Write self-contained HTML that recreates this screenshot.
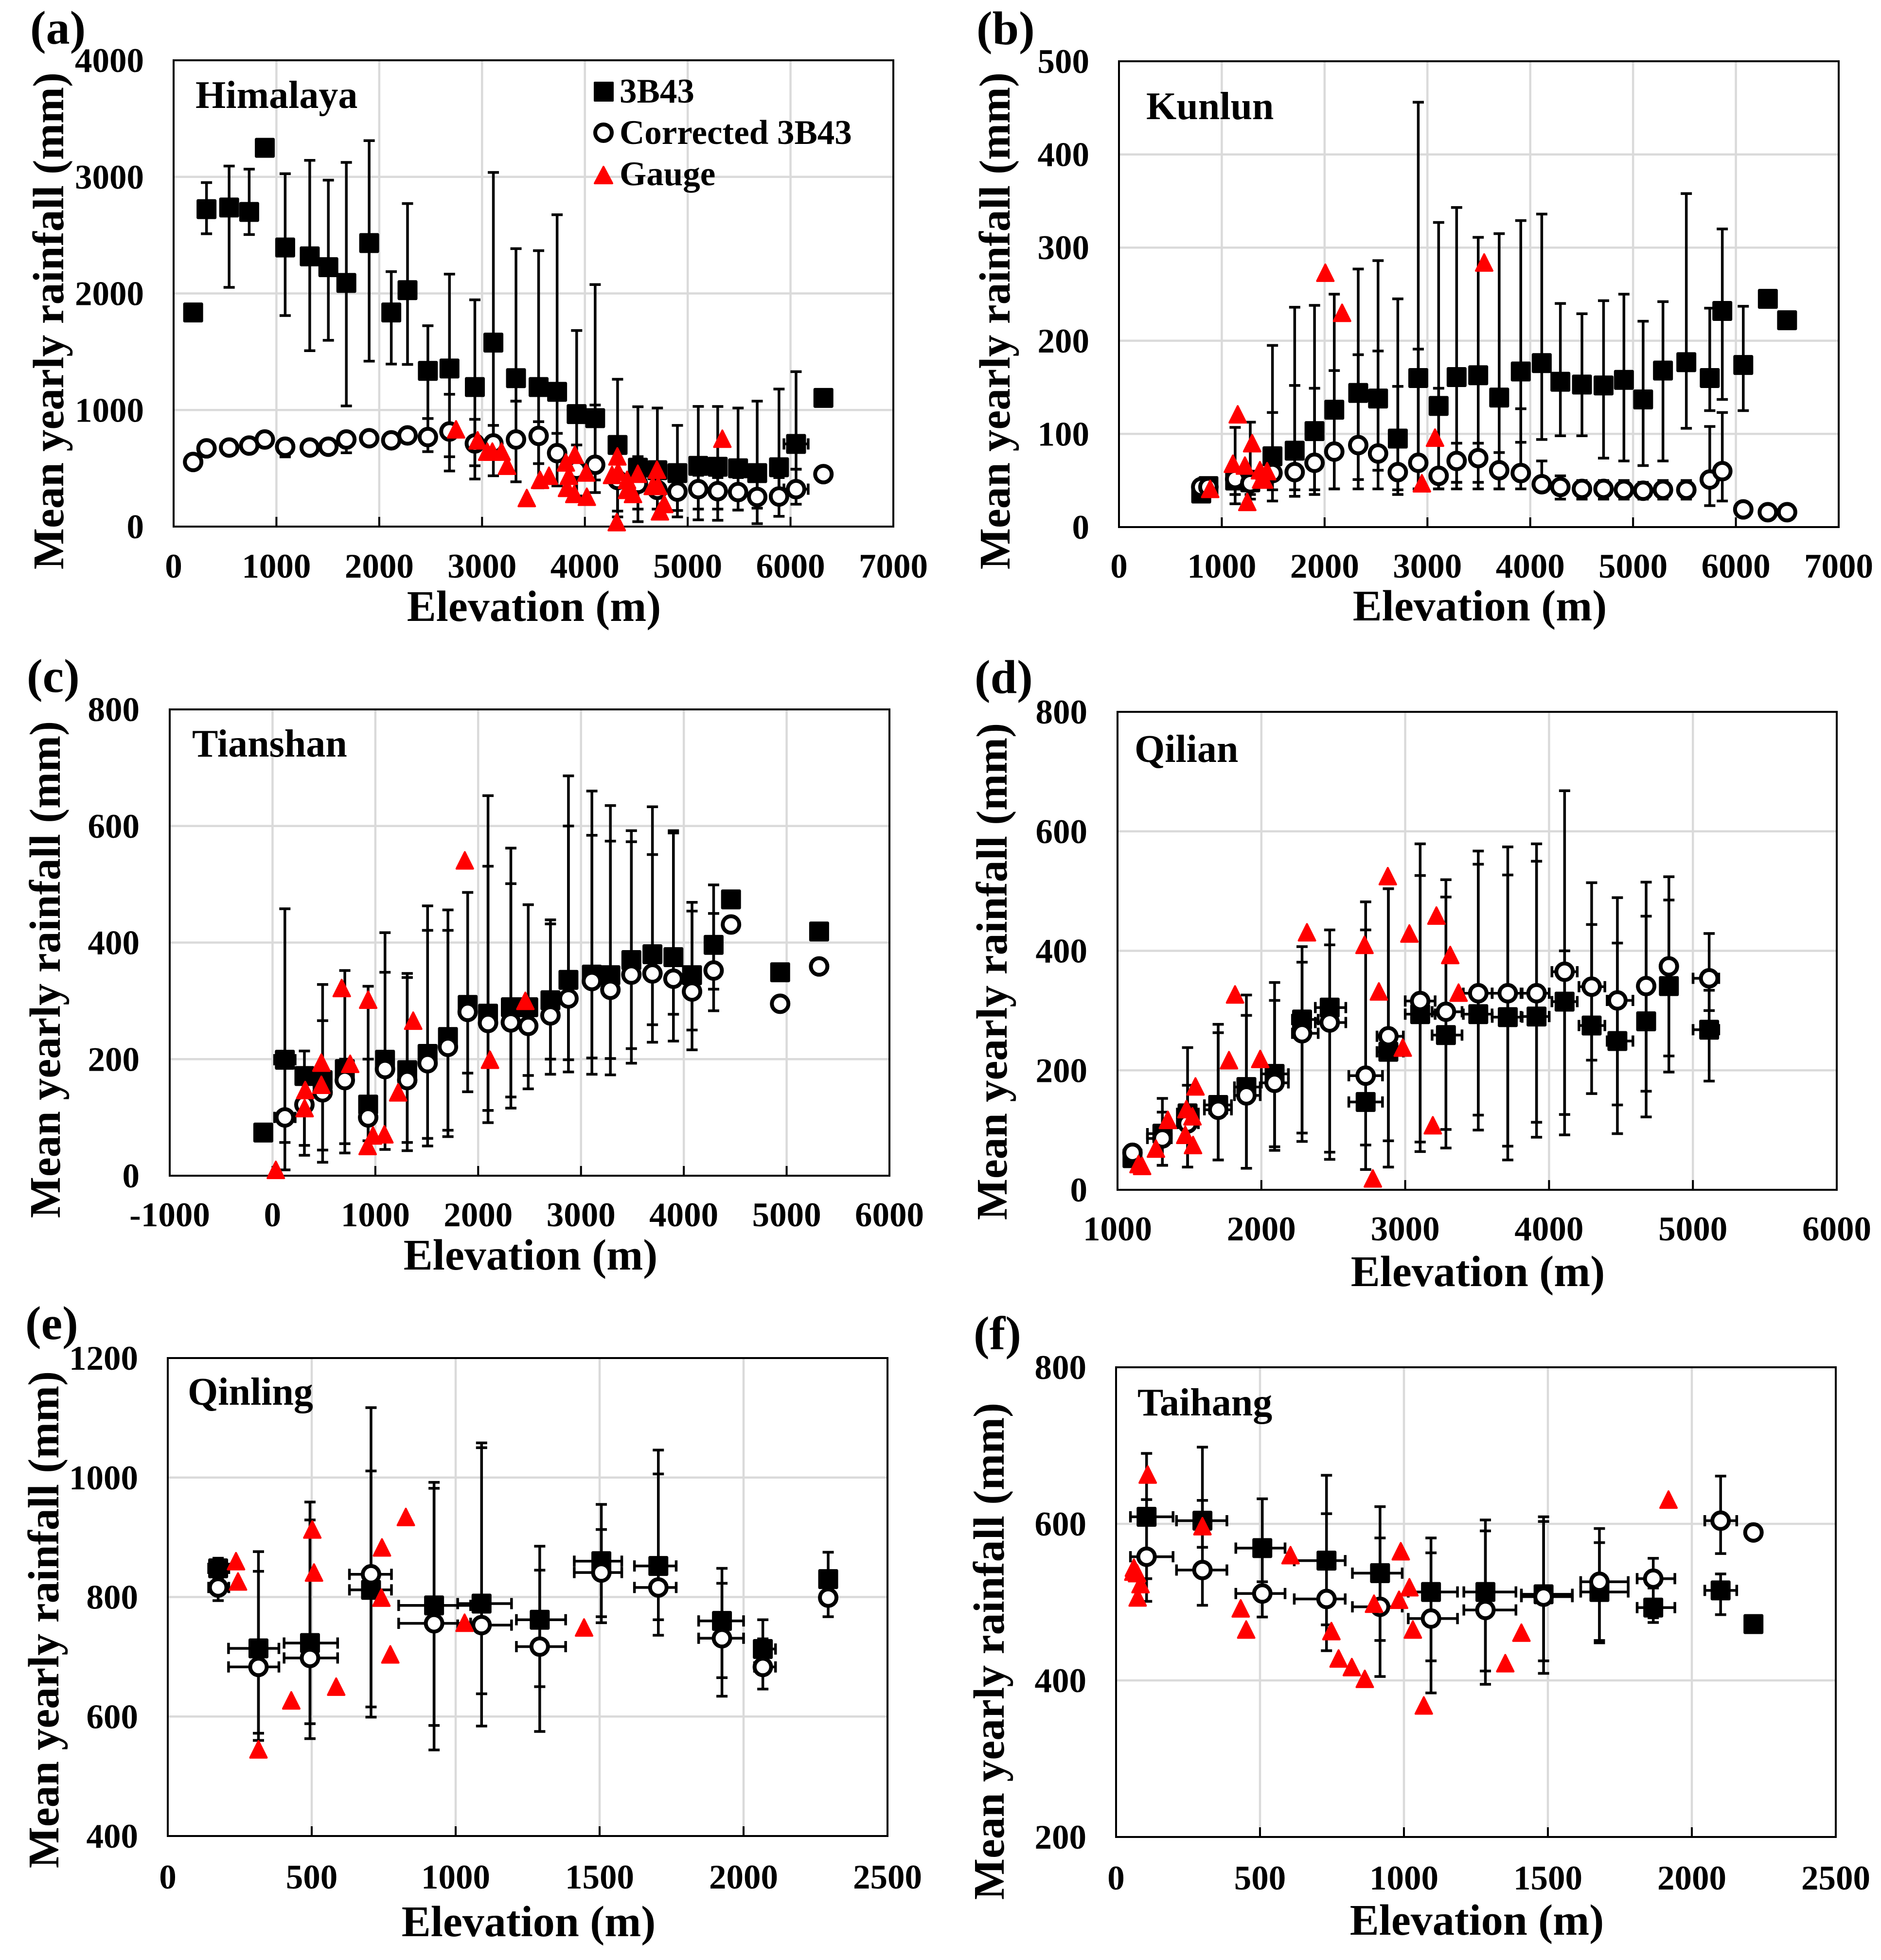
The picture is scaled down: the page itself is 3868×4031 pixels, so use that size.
<!DOCTYPE html>
<html lang="en">
<head>
<meta charset="utf-8">
<title>Mean yearly rainfall vs elevation</title>
<style>
html,body{margin:0;padding:0;background:#fff;}
svg{display:block;}
text{font-family:"Liberation Serif",serif;font-weight:bold;fill:#000;}
.tick{font-size:71px;}
.axis-title{font-size:90px;}
.panel-letter{font-size:98px;}
.region{font-size:80px;}
.legend-text{font-size:71px;}
</style>
</head>
<body>
<svg id="figure" xmlns="http://www.w3.org/2000/svg" width="3868" height="4031" viewBox="0 0 3868 4031">
  <rect x="0" y="0" width="3868" height="4031" fill="#fff"/>

  <g id="panel-a"></g>
  <g id="panel-b"></g>
  <g id="panel-c"></g>
  <g id="panel-d"></g>
  <g id="panel-e"></g>
  <g id="panel-f"></g>

  <text class="panel-letter" x="62" y="90">(a)</text>
  <text class="panel-letter" x="2008" y="91">(b)</text>
  <text class="panel-letter" x="55" y="1423">(c)</text>
  <text class="panel-letter" x="2004" y="1425">(d)</text>
  <text class="panel-letter" x="52" y="2754">(e)</text>
  <text class="panel-letter" x="2002" y="2775">(f)</text>

  <text class="region" x="402" y="222">Himalaya</text>
  <text class="region" x="2357" y="245">Kunlun</text>
  <text class="region" x="395" y="1556">Tianshan</text>
  <text class="region" x="2333" y="1567">Qilian</text>
  <text class="region" x="386" y="2889">Qinling</text>
  <text class="region" x="2339" y="2911">Taihang</text>

  <text class="axis-title" text-anchor="middle" x="1098" y="1277">Elevation (m)</text>
  <text class="axis-title" text-anchor="middle" x="3043" y="1276">Elevation (m)</text>
  <text class="axis-title" text-anchor="middle" x="1091" y="2611">Elevation (m)</text>
  <text class="axis-title" text-anchor="middle" x="3039" y="2645">Elevation (m)</text>
  <text class="axis-title" text-anchor="middle" x="1087" y="3982">Elevation (m)</text>
  <text class="axis-title" text-anchor="middle" x="3037" y="3979">Elevation (m)</text>

  <text class="axis-title" text-anchor="middle" transform="translate(130,660) rotate(-90)">Mean yearly rainfall (mm)</text>
  <text class="axis-title" text-anchor="middle" transform="translate(2076,660) rotate(-90)">Mean yearly rainfall (mm)</text>
  <text class="axis-title" text-anchor="middle" transform="translate(123,1994) rotate(-90)">Mean yearly rainfall (mm)</text>
  <text class="axis-title" text-anchor="middle" transform="translate(2070,1998) rotate(-90)">Mean yearly rainfall (mm)</text>
  <text class="axis-title" text-anchor="middle" transform="translate(120,3331) rotate(-90)">Mean yearly rainfall (mm)</text>
  <text class="axis-title" text-anchor="middle" transform="translate(2064,3396) rotate(-90)">Mean yearly rainfall (mm)</text>

  <g id="legend">
    <g>
      <rect x="1221" y="168" width="41" height="41" rx="2" fill="#000"/>
      <text class="legend-text" x="1274" y="211">3B43</text>
    </g>
    <g>
      <circle cx="1241" cy="273" r="17" fill="#fff" stroke="#000" stroke-width="8"/>
      <text class="legend-text" x="1274" y="296">Corrected 3B43</text>
    </g>
    <g>
      <polygon points="1241,343 1259,377 1223,377" fill="#f00" stroke="#f00" stroke-width="4" stroke-linejoin="round"/>
      <text class="legend-text" x="1274" y="381">Gauge</text>
    </g>
  </g>
</svg>

<script>
// ---------- Panel (a) Himalaya ----------
const xTicksA = [0,1000,2000,3000,4000,5000,6000,7000];
const yTicksA = [0,1000,2000,3000,4000];
const elevationA = [190,320,540,735,887,1085,1324,1505,1680,1902,2117,2275,2473,2683,2930,3110,3330,3550,3730,3920,4100,4318,4516,4705,4900,5103,5292,5490,5676,5888,6054,6320];
const rain3bA = [1837,2723,2737,2699,3249,2394,2318,2225,2090,2432,1837,2028,1336,1356,1197,1578,1273,1197,1156,965,930,700,505,484,459,521,513,500,459,509,709,1104];
const upper3bA = [null,2951,3093,3066,null,3027,3142,2972,3124,3311,2187,2771,1723,2166,1945,3038,2384,2367,2675,1682,2076,1264,1028,1017,868,1031,1030,1017,1076,1180,1329,null];
const lower3bA = [null,2512,2052,2505,null,1810,1509,1598,1035,1419,1394,1391,927,599,522,747,1076,540,600,430,400,133,150,150,138,150,150,142,158,300,492,null];
const rainCorrA = [554,671,678,695,747,685,678,685,747,758,740,782,768,816,713,713,747,778,630,488,530,400,366,315,300,321,304,296,254,258,321,450];
const upperCorrA = [null,720,720,730,790,740,730,730,800,800,790,830,927,1135,920,868,1076,900,800,700,1043,700,600,500,420,440,420,420,450,420,492,null];
const lowerCorrA = [null,620,640,660,700,598,630,640,633,700,690,730,643,477,408,436,384,332,349,263,292,83,42,67,83,58,54,142,25,88,192,null];
const xerrA = [0,0,0,0,0,0,30,0,0,0,0,60,0,60,0,0,0,0,0,0,0,0,0,0,0,0,0,0,0,0,118,0];
const gaugeElevA = [2747,2957,3050,3100,3190,3243,3435,3564,3651,3815,3844,3826,3897,3902,4013,4019,4264,4316,4310,4323,4410,4410,4468,4515,4660,4701,4713,4730,4772,5337];
const gaugeRainA = [834,740,643,643,643,522,245,401,436,550,436,332,280,616,464,256,443,602,38,470,401,315,280,453,349,488,349,131,194,754];

// ---------- Panel (b) Kunlun ----------
const xTicksB = [0,1000,2000,3000,4000,5000,6000,7000];
const yTicksB = [0,100,200,300,400,500];
const elevationB = [800,870,1130,1277,1493,1709,1902,2094,2327,2520,2712,2911,3109,3284,3494,3698,3908,4112,4293,4503,4713,4911,5098,5291,5518,5746,5868,6072,6311,6498];
const rain3bB = [36,44,50,48,76,82,103,126,144,138,95,160,130,161,163,139,167,176,156,153,152,158,137,168,177,160,232,174,245,222];
const upper3bB = [null,113,107,112.6,195,236,238,250,277,286,245,456,327,343,311,315,329,336,240,229,243,250,221,242,358,235,320,237,null,null];
const lower3bB = [null,null,35,35,40,40,40,41,51,61,40,41,41,48,48,41,91,94,98,98,74,71,66,71,106,125,137,125,null,null];
const rainCorrB = [43,43,51.5,47,58,59,69,81,88,79,59,69,55,71,74,61,58,46,43,41,41,40,39,40,40,51,60,19,16,16];
const upperCorrB = [null,null,60,60,123,152,149,168,185,189,151,191,149,90,90,80,127,71,55,50,50,50,48,50,50,108,123,null,null,null];
const lowerCorrB = [null,null,25,30,28,33,35,41,41,41,35,41,41,41,41,41,41,40,30,30,30,30,30,30,30,23,28,null,null,null];
const xerrB = [0,0,0,0,0,0,0,0,60,0,0,0,0,0,0,60,0,0,0,0,0,0,0,60,0,0,0,0,0,0];
const gaugeElevB = [887,1155,1108,1225,1248,1295,1371,1382,1412,1441,2007,2170,2946,3074,3552];
const gaugeRainB = [41,121,68,66,27,90,61,51,51,60,273,230,47,96,284];

// ---------- Panel (c) Tianshan ----------
const xTicksC = [-1000,0,1000,2000,3000,4000,5000,6000];
const yTicksC = [0,200,400,600,800];
const elevationC = [-90,120,310,487,703,930,1094,1310,1508,1706,1898,2096,2318,2487,2703,2878,3106,3286,3490,3695,3899,4080,4290,4459,4937,5316];
const rain3bC = [74,199,171,164,183,122,199,181,209,238,293,278,289,289,301,336,345,344,370,380,375,344,396,474,349,419];
const upper3bC = [null,458,214,328,352,325,417,347,463,456,486,652,562,465,439,686,660,635,592,633,592,469,499,null,null,null];
const lower3bC = [null,57,52,44,55,60,60,57,64,78,176,112,135,172,200,199,202,201,218,259,277,250,320,null,null,null];
const rainCorrC = [null,100,122,143,164,100,183,164,193,221,281,262,263,257,275,304,334,319,345,347,338,316,352,431,295,359];
const upperCorrC = [null,200,170,266,200,200,349,340,421,421,300,531,501,300,432,600,584,574,573,551,588,454,450,null,null,null];
const lowerCorrC = [null,10,35,23,39,39,45,43,51,67,144,91,116,149,174,178,174,173,193,229,231,216,283,null,null,null];
const xerrC = [0,100,0,0,0,0,0,0,0,0,0,0,0,0,0,0,0,0,0,0,0,0,60,0,0,0];
const gaugeElevC = [32,312,318,475,475,673,755,930,925,977,1088,1222,1368,1870,2115,2459];
const gaugeRainC = [10,116,147,194,156,322,192,302,51,69,71,143,266,541,199,300];

// ---------- Panel (d) Qilian ----------
const xTicksD = [1000,2000,3000,4000,5000,6000];
const yTicksD = [0,200,400,600,800];
const elevationD = [1104,1312,1487,1700,1896,2092,2283,2475,2725,2883,3104,3283,3508,3713,3913,4108,4296,4475,4675,4833,5113];
const rain3bD = [53,94,128,142,172,194,285,305,147,231,294,259,294,289,290,315,275,249,282,341,268];
const upper3bD = [null,153,238,277,326,347,407,435,482,504,526,490,545,527,550,668,444,413,458,485,334];
const lower3bD = [null,41,38,50,36,72,95,63,75,82,80,101,125,73,113,126,217,142,165,224,182];
const rainCorrD = [62,86,111,134,158,179,262,280,191,257,316,298,329,329,329,365,340,317,341,374,354];
const upperCorrD = [null,130,175,263,292,317,381,410,435,504,579,519,567,574,579,400,514,489,515,524,429];
const lowerCorrD = [null,41,38,50,36,66,81,51,34,38,64,70,100,50,88,92,161,94,122,197,300];
const xerrMinusD = [0,104,71,96,83,92,67,100,117,79,104,96,104,108,108,88,88,71,0,0,112];
const xerrPlusD = [0,62,75,92,96,96,112,112,117,104,104,112,96,100,88,88,92,108,0,0,67];
const gaugeElevD = [1146,1171,1267,1350,1479,1471,1521,1525,1542,1775,1817,1992,2317,2717,2775,2817,2879,2983,3029,3217,3192,3313,3371];
const gaugeRainD = [43,40,69,117,135,92,123,75,173,217,327,219,431,410,19,332,525,238,429,459,108,393,330];

// ---------- Panel (e) Qinling ----------
const xTicksE = [0,500,1000,1500,2000,2500];
const yTicksE = [400,600,800,1000,1200];
const elevationE = [175,315,494,706,925,1090,1292,1506,1704,1925,2067,2294];
const rain3bE = [848,714,723,812,786,789,762,860,852,760,713,830];
const upper3bE = [865,876,959,1117,992,1058,885,955,1046,848,762,875];
const lower3bE = [830,572,588,616,585,638,650,767,762,665,680,800];
const rainCorrE = [816,683,698,838,756,753,717,841,816,731,683,799];
const upperCorrE = [830,843,929,1011,982,1050,845,913,1006,823,730,820];
const lowerCorrE = [794,560,563,599,544,584,575,757,736,634,646,767];
const xerrMinusE = [33,104,90,75,123,83,81,94,83,81,29,0];
const xerrPlusE = [37,71,96,71,127,104,90,71,62,75,44,0];
const gaugeElevE = [237,244,315,429,502,508,585,744,742,773,827,1031,1446];
const gaugeRainE = [860,826,545,627,913,841,650,883,799,704,934,757,749];

// ---------- Panel (f) Taihang ----------
const xTicksF = [0,500,1000,1500,2000,2500];
const yTicksF = [200,400,600,800];
const elevationF = [106,300,508,731,917,1094,1283,1485,1679,1866,2100,2214];
const rain3bF = [609,604,569,553,537,513,513,510,513,493,515,472];
const upper3bF = [690,698,632,662,622,582,605,609,594,556,536,null];
const lower3bF = [530,570,526,471,451,425,412,425,451,474,484,null];
const rainCorrF = [558,541,511,504,494,479,490,507,526,530,604,589];
const upperCorrF = [631,630,560,613,582,563,591,603,576,518,661,null];
const lowerCorrF = [501,496,481,438,405,384,395,409,448,480,562,null];
const xerrMinusF = [56,90,92,112,96,79,75,77,65,56,55,0];
const xerrPlusF = [92,85,79,65,77,92,106,100,100,75,56,0];
const gaugeElevF = [60,62,73,85,75,110,300,433,452,606,748,773,819,864,896,989,983,1019,1031,1069,1352,1408,1919];
const gaugeRainF = [539,544,537,523,506,663,597,492,465,560,463,428,417,402,498,565,503,519,465,368,422,461,631];

// ---------- Layout (pixel geometry of each plot frame) ----------
const panels = [
  {id:'a', left:357, right:1837, top:124, bottom:1083, labelGap:61, xBase:105,
   xTicks:xTicksA, yTicks:yTicksA, elevation:elevationA, rain3b:rain3bA, upper3b:upper3bA, lower3b:lower3bA, rainCorr:rainCorrA, upperCorr:upperCorrA, lowerCorr:lowerCorrA, xerrMinus:xerrA, xerrPlus:xerrA, gaugeElev:gaugeElevA, gaugeRain:gaugeRainA},
  {id:'b', left:2301, right:3781, top:126, bottom:1084, labelGap:61, xBase:104,
   xTicks:xTicksB, yTicks:yTicksB, elevation:elevationB, rain3b:rain3bB, upper3b:upper3bB, lower3b:lower3bB, rainCorr:rainCorrB, upperCorr:upperCorrB, lowerCorr:lowerCorrB, xerrMinus:xerrB, xerrPlus:xerrB, gaugeElev:gaugeElevB, gaugeRain:gaugeRainB},
  {id:'c', left:349, right:1829, top:1459, bottom:2418, labelGap:62, xBase:104,
   xTicks:xTicksC, yTicks:yTicksC, elevation:elevationC, rain3b:rain3bC, upper3b:upper3bC, lower3b:lower3bC, rainCorr:rainCorrC, upperCorr:upperCorrC, lowerCorr:lowerCorrC, xerrMinus:xerrC, xerrPlus:xerrC, gaugeElev:gaugeElevC, gaugeRain:gaugeRainC},
  {id:'d', left:2298, right:3777, top:1464, bottom:2447, labelGap:62, xBase:104,
   xTicks:xTicksD, yTicks:yTicksD, elevation:elevationD, rain3b:rain3bD, upper3b:upper3bD, lower3b:lower3bD, rainCorr:rainCorrD, upperCorr:upperCorrD, lowerCorr:lowerCorrD, xerrMinus:xerrMinusD, xerrPlus:xerrPlusD, gaugeElev:gaugeElevD, gaugeRain:gaugeRainD},
  {id:'e', left:345, right:1825, top:2793, bottom:3776, labelGap:61, xBase:108,
   xTicks:xTicksE, yTicks:yTicksE, elevation:elevationE, rain3b:rain3bE, upper3b:upper3bE, lower3b:lower3bE, rainCorr:rainCorrE, upperCorr:upperCorrE, lowerCorr:lowerCorrE, xerrMinus:xerrMinusE, xerrPlus:xerrPlusE, gaugeElev:gaugeElevE, gaugeRain:gaugeRainE},
  {id:'f', left:2295, right:3775, top:2812, bottom:3778, labelGap:61, xBase:108,
   xTicks:xTicksF, yTicks:yTicksF, elevation:elevationF, rain3b:rain3bF, upper3b:upper3bF, lower3b:lower3bF, rainCorr:rainCorrF, upperCorr:upperCorrF, lowerCorr:lowerCorrF, xerrMinus:xerrMinusF, xerrPlus:xerrPlusF, gaugeElev:gaugeElevF, gaugeRain:gaugeRainF}
];

const SVG_NS = 'http://www.w3.org/2000/svg';

function add(parent, tag, attrs, name) {
  const el = document.createElementNS(SVG_NS, tag);
  for (const k in attrs) el.setAttribute(k, attrs[k]);
  
  
  parent.appendChild(el);
  return el;
}

function drawErrorBars(g, sx, sy, x, y, hi, lo, xm, xp, name) {
  const cap = 11.5;
  const style = {stroke:'#000', 'stroke-width':5.5, fill:'none'};
  if (hi !== null && lo !== null) {
    add(g, 'line', Object.assign({x1:sx(x), x2:sx(x), y1:sy(hi), y2:sy(lo)}, style), name + '-y-error');
    add(g, 'line', Object.assign({x1:sx(x)-cap, x2:sx(x)+cap, y1:sy(hi), y2:sy(hi)}, style), name + '-y-cap-upper');
    add(g, 'line', Object.assign({x1:sx(x)-cap, x2:sx(x)+cap, y1:sy(lo), y2:sy(lo)}, style), name + '-y-cap-lower');
  }
  if (xm || xp) {
    add(g, 'line', Object.assign({x1:sx(x-xm), x2:sx(x+xp), y1:sy(y), y2:sy(y)}, style), name + '-x-error');
    add(g, 'line', Object.assign({x1:sx(x-xm), x2:sx(x-xm), y1:sy(y)-cap, y2:sy(y)+cap}, style), name + '-x-cap-left');
    add(g, 'line', Object.assign({x1:sx(x+xp), x2:sx(x+xp), y1:sy(y)-cap, y2:sy(y)+cap}, style), name + '-x-cap-right');
  }
}

function drawPanel(p) {
  const g = document.getElementById('panel-' + p.id);
  const xMin = p.xTicks[0], xMax = p.xTicks[p.xTicks.length - 1];
  const yMin = p.yTicks[0], yMax = p.yTicks[p.yTicks.length - 1];
  const sx = v => p.left + (v - xMin) / (xMax - xMin) * (p.right - p.left);
  const sy = v => p.bottom - (v - yMin) / (yMax - yMin) * (p.bottom - p.top);

  p.yTicks.forEach(t => {
    if (t !== yMin && t !== yMax) {
      add(g, 'line', {x1:p.left, x2:p.right, y1:sy(t), y2:sy(t), stroke:'#dadada', 'stroke-width':4.5}, 'y-gridline');
    }
    const lab = add(g, 'text', {class:'tick', x:p.left - p.labelGap, y:sy(t) + 24, 'text-anchor':'end'}, 'y-tick-label');
    lab.textContent = String(t);
  });
  p.xTicks.forEach(t => {
    if (t !== xMin && t !== xMax) {
      add(g, 'line', {x1:sx(t), x2:sx(t), y1:p.top, y2:p.bottom, stroke:'#dadada', 'stroke-width':4.5}, 'x-gridline');
      add(g, 'line', {x1:sx(t), x2:sx(t), y1:p.bottom - 20, y2:p.bottom, stroke:'#000', 'stroke-width':4}, 'x-tick-mark');
    }
    const lab = add(g, 'text', {class:'tick', x:sx(t), y:p.bottom + p.xBase, 'text-anchor':'middle'}, 'x-tick-label');
    lab.textContent = String(t);
  });

  add(g, 'rect', {x:p.left, y:p.top, width:p.right - p.left, height:p.bottom - p.top, fill:'none', stroke:'#000', 'stroke-width':4}, 'plot-frame');

  const sz = 41;
  p.elevation.forEach((x, i) => {
    const y = p.rain3b[i];
    drawErrorBars(g, sx, sy, x, y, p.upper3b[i], p.lower3b[i], p.xerrMinus[i], p.xerrPlus[i], 'error-bar-3b43');
    add(g, 'rect', {x:sx(x) - sz / 2, y:sy(y) - sz / 2, width:sz, height:sz, rx:3, fill:'#000'}, 'point-3b43');
  });
  p.elevation.forEach((x, i) => {
    const y = p.rainCorr[i];
    if (y === null) return;
    drawErrorBars(g, sx, sy, x, y, p.upperCorr[i], p.lowerCorr[i], p.xerrMinus[i], p.xerrPlus[i], 'error-bar-corrected');
  });
  p.elevation.forEach((x, i) => {
    const y = p.rainCorr[i];
    if (y === null) return;
    add(g, 'circle', {cx:sx(x), cy:sy(y), r:17, fill:'#fff', stroke:'#000', 'stroke-width':8}, 'point-corrected');
  });
  p.gaugeElev.forEach((x, i) => {
    const cx = sx(x), cy = sy(p.gaugeRain[i]);
    const pts = cx + ',' + (cy - 17) + ' ' + (cx + 17) + ',' + (cy + 17) + ' ' + (cx - 17) + ',' + (cy + 17);
    add(g, 'polygon', {points:pts, fill:'#f00', stroke:'#f00', 'stroke-width':4, 'stroke-linejoin':'round'}, 'point-gauge');
  });
}

panels.forEach(drawPanel);
</script>
</body>
</html>
